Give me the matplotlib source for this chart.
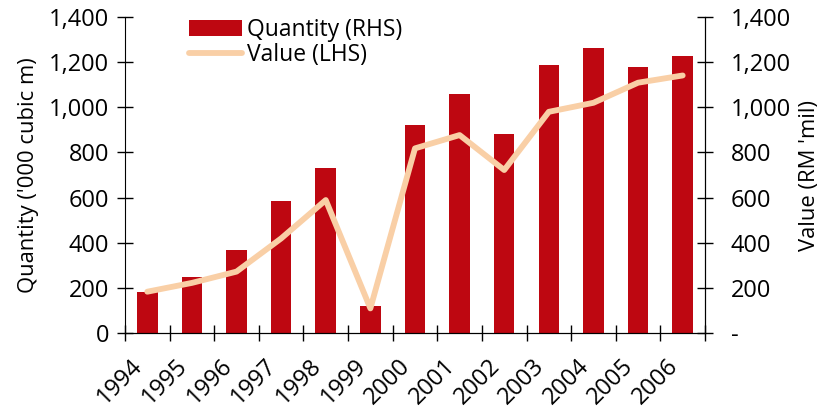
import matplotlib

matplotlib.use("Agg")
import matplotlib.pyplot as plt
import numpy as np

plt.rcParams["font.family"] = ["Open Sans", "DejaVu Sans"]

years = ["1994", "1995", "1996", "1997", "1998", "1999", "2000",
         "2001", "2002", "2003", "2004", "2005", "2006"]
quantity = [180, 248, 368, 585, 731, 120, 922, 1059, 882, 1187, 1263, 1178, 1227]
value = [183, 222, 272, 419, 589, 109, 818, 877, 722, 980, 1020, 1109, 1141]

bar_color = "#BE0711"
line_color = "#F9CFA6"

fig = plt.figure(figsize=(8.19, 4.07), dpi=100)
ax = fig.add_axes([0.1526, 0.1818, 0.7082, 0.7764])

x = np.arange(len(years)) + 0.5
bars = ax.bar(x, quantity, width=0.46, color=bar_color, label="Quantity (RHS)", zorder=2)
line, = ax.plot(x, value, color=line_color, lw=4.2, label="Value (LHS)", zorder=3,
                solid_capstyle="round")

ax.set_xlim(0, len(years))
ax.set_ylim(0, 1400)
yt = np.arange(0, 1401, 200)
ax.set_yticks(yt)
ax.set_yticklabels([f"{v:,}" for v in yt])
# tick marks sit between the years, labels hang just right of each mark
ax.set_xticks(np.arange(len(years) + 1))
ax.set_xticklabels([])
ax.set_xticks(np.arange(len(years)) + 0.13, minor=True)
ax.set_xticklabels(years, minor=True, rotation=45, ha="right", va="top",
                   rotation_mode="anchor")
ax.tick_params(axis="x", which="minor", length=0, pad=15, labelsize=17)
ax.tick_params(axis="x", which="major", direction="inout", length=11, width=1)
ax.tick_params(axis="y", direction="inout", length=11, width=1, labelsize=17, pad=6)
ax.set_ylabel("Quantity ('000 cubic m)", fontsize=15.8, labelpad=7)
ax.spines["top"].set_visible(False)

ax2 = ax.twinx()
ax2.set_ylim(0, 1400)
ax2.set_yticks(yt)
ax2.set_yticklabels(["-"] + [f"{v:,}" for v in yt[1:]])
ax2.tick_params(axis="y", direction="inout", length=11, width=1, labelsize=17, pad=13)
ax2.set_ylabel("Value (RM 'mil)", fontsize=15.8, labelpad=6)
for s in ("top", "left"):
    ax2.spines[s].set_visible(False)

ax.legend([bars, line], ["Quantity (RHS)", "Value (LHS)"],
          loc="upper left", bbox_to_anchor=(0.095, 1.025), frameon=False, fontsize=16.5,
          handlelength=2.3, handletextpad=0.2, labelspacing=0.05, borderaxespad=0)

fig.savefig("out.png", dpi=100)
